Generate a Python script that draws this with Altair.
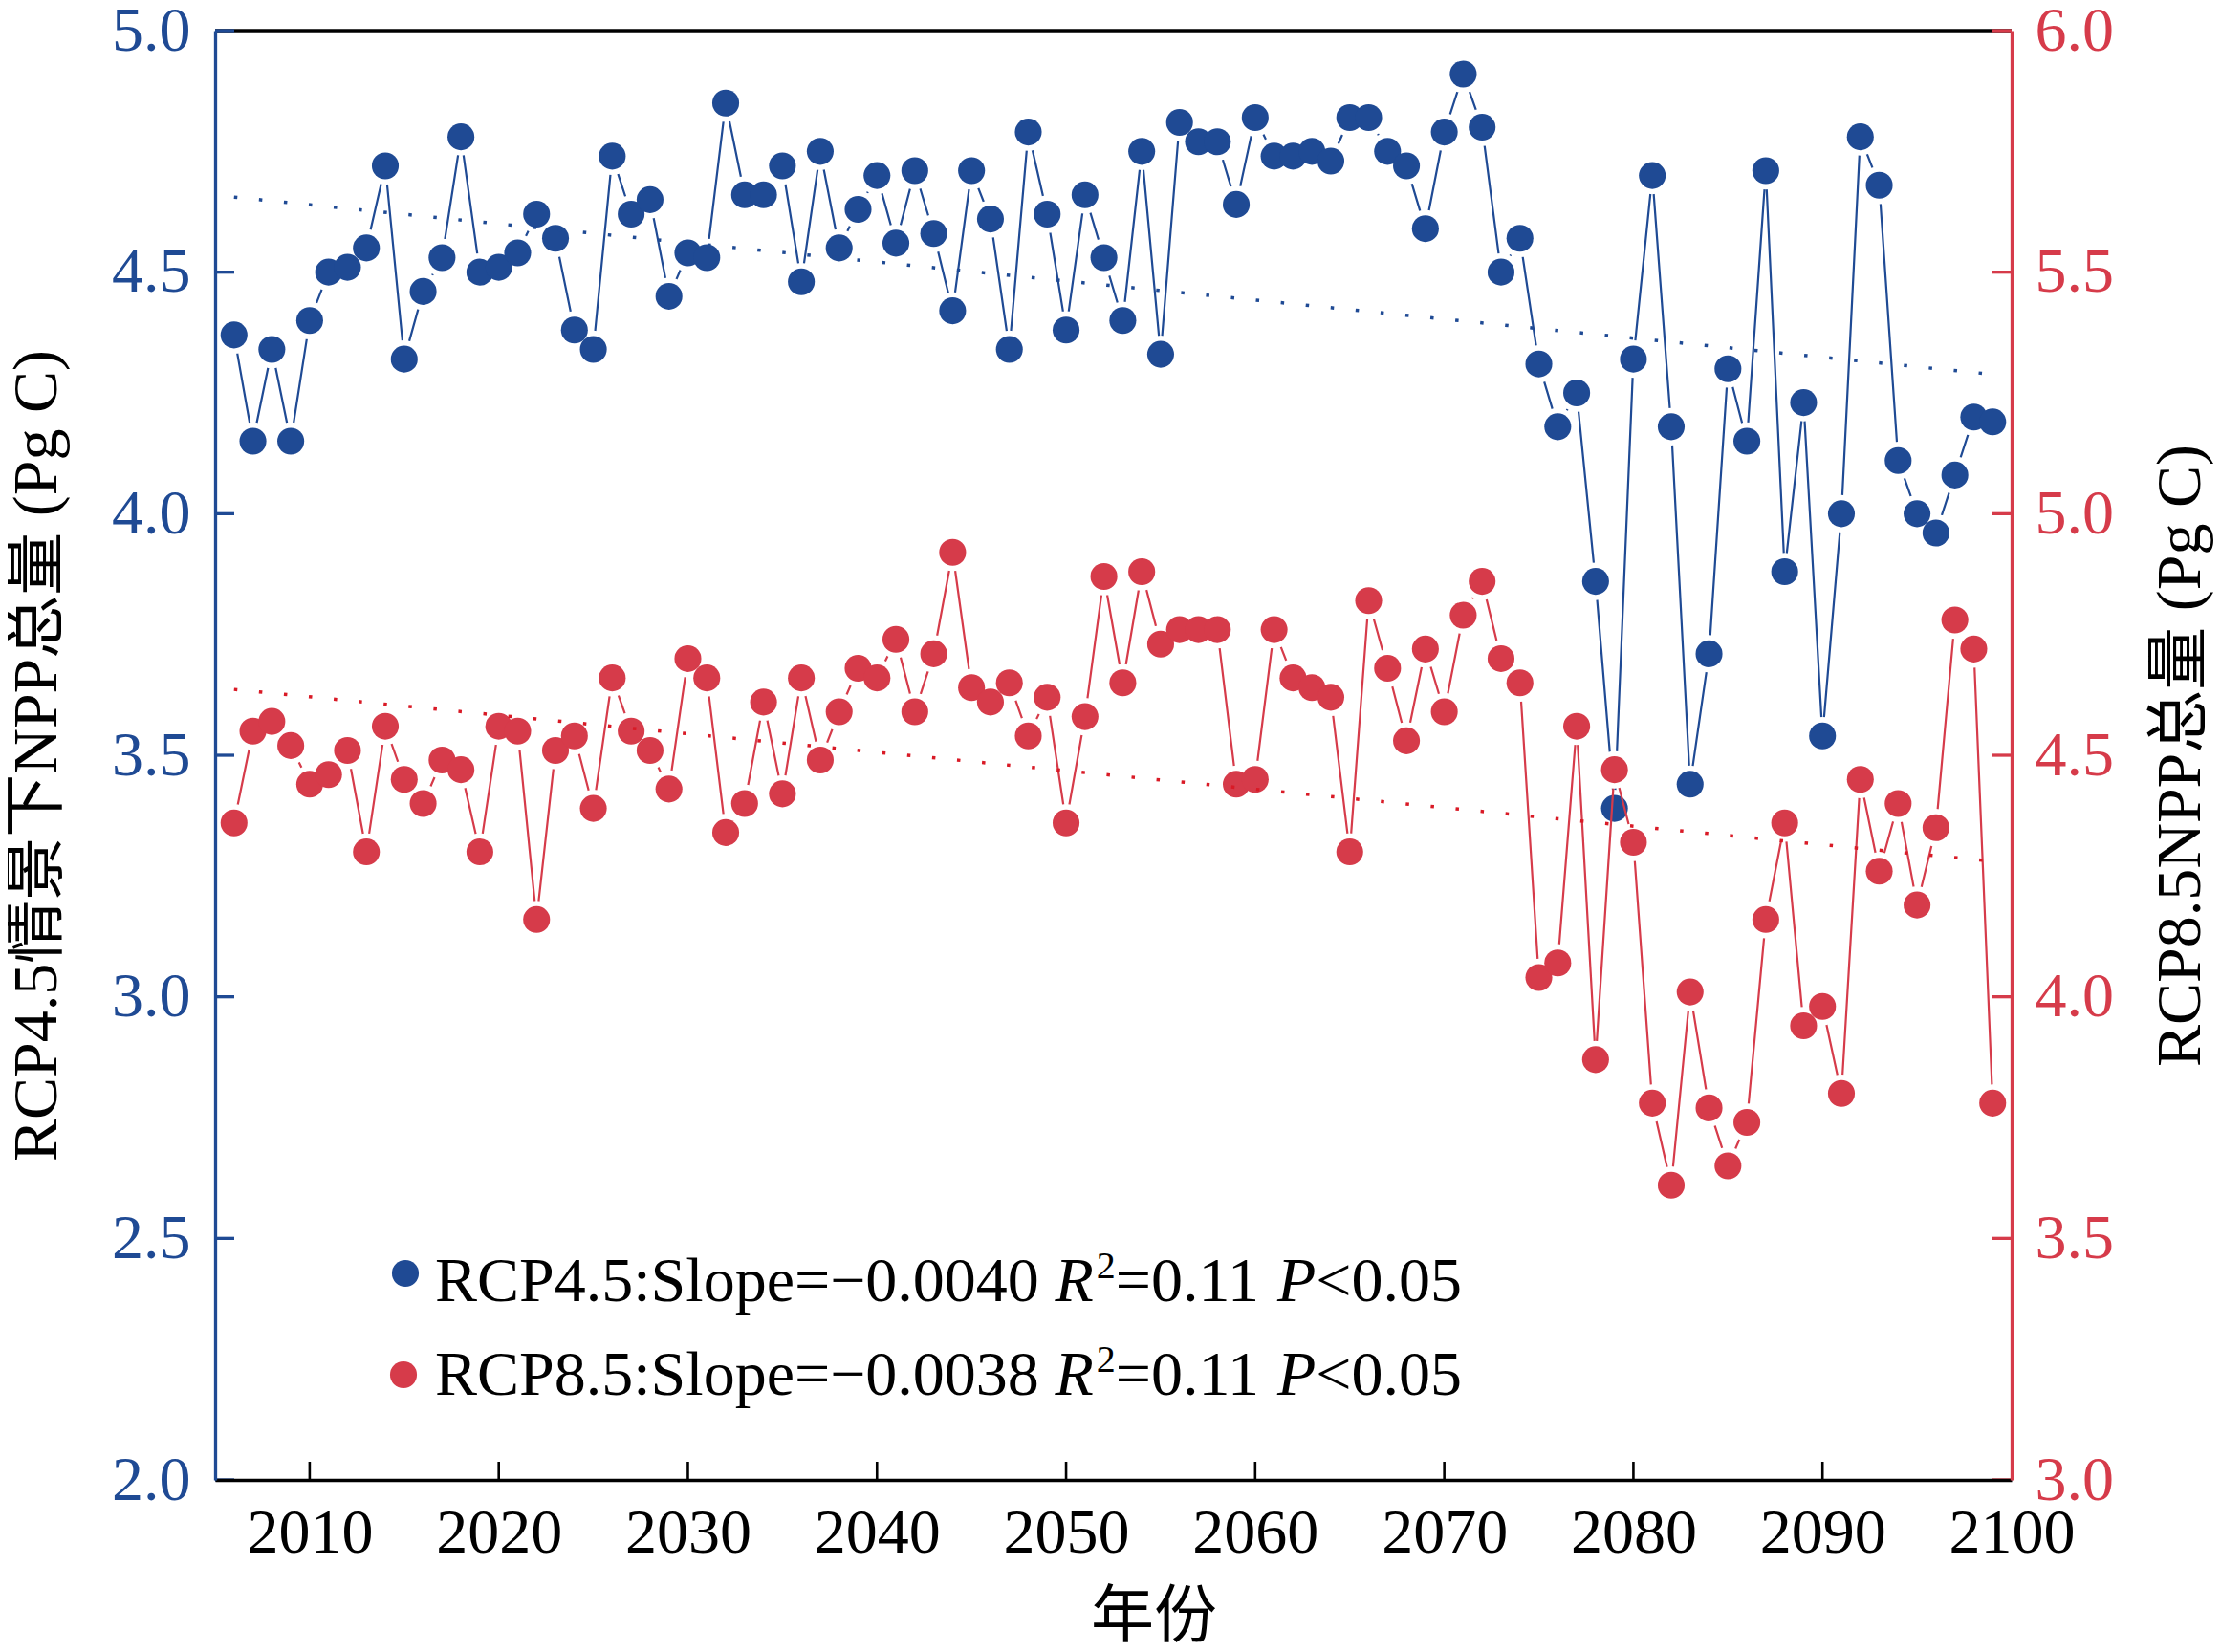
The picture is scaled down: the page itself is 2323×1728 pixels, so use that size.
import altair as alt
import pandas as pd

# ---------------- data ----------------
years = list(range(2006, 2100))

rcp45 = [4.37, 4.15, 4.34, 4.15, 4.40, 4.50, 4.51, 4.55, 4.72, 4.32,
         4.46, 4.53, 4.78, 4.50, 4.51, 4.54, 4.62, 4.57, 4.38, 4.34,
         4.74, 4.62, 4.65, 4.45, 4.54, 4.53, 4.85, 4.66, 4.66, 4.72,
         4.48, 4.75, 4.55, 4.63, 4.70, 4.56, 4.71, 4.58, 4.42, 4.71,
         4.61, 4.34, 4.79, 4.62, 4.38, 4.66, 4.53, 4.40, 4.75, 4.33,
         4.81, 4.77, 4.77, 4.64, 4.82, 4.74, 4.74, 4.75, 4.73, 4.82,
         4.82, 4.75, 4.72, 4.59, 4.79, 4.91, 4.80, 4.50, 4.57, 4.31,
         4.18, 4.25, 3.86, 3.39, 4.32, 4.70, 4.18, 3.44, 3.71, 4.30,
         4.15, 4.71, 3.88, 4.23, 3.54, 4.00, 4.78, 4.68, 4.11, 4.00,
         3.96, 4.08, 4.20, 4.19]

rcp85 = [4.36, 4.55, 4.57, 4.52, 4.44, 4.46, 4.51, 4.30, 4.56, 4.45,
         4.40, 4.49, 4.47, 4.30, 4.56, 4.55, 4.16, 4.51, 4.54, 4.39,
         4.66, 4.55, 4.51, 4.43, 4.70, 4.66, 4.34, 4.40, 4.61, 4.42,
         4.66, 4.49, 4.59, 4.68, 4.66, 4.74, 4.59, 4.71, 4.92, 4.64,
         4.61, 4.65, 4.54, 4.62, 4.36, 4.58, 4.87, 4.65, 4.88, 4.73,
         4.76, 4.76, 4.76, 4.44, 4.45, 4.76, 4.66, 4.64, 4.62, 4.30,
         4.82, 4.68, 4.53, 4.72, 4.59, 4.79, 4.86, 4.70, 4.65, 4.04,
         4.07, 4.56, 3.87, 4.47, 4.32, 3.78, 3.61, 4.01, 3.77, 3.65,
         3.74, 4.16, 4.36, 3.94, 3.98, 3.80, 4.45, 4.26, 4.40, 4.19,
         4.35, 4.78, 4.72, 3.78]

left_ticks = [2.0, 2.5, 3.0, 3.5, 4.0, 4.5, 5.0]
right_ticks = [3.0, 3.5, 4.0, 4.5, 5.0, 5.5, 6.0]
year_ticks = [2010, 2020, 2030, 2040, 2050, 2060, 2070, 2080, 2090, 2100]

series_names = ["RCP4.5", "RCP8.5"]
slopes = ["\u22120.0040", "\u22120.0038"]
r2_text = ["0.11", "0.11"]
p_text = ["0.05", "0.05"]

left_title = "RCP4.5情景下NPP总量 (Pg C)"
right_title = "RCP8.5NPP总量 (Pg C)"
x_title = "年份"

# ---------------- style ----------------
BLUE = "#1f4a94"
RED = "#d63b4a"
RED_TREND = "#d91a26"
W, H = 1879, 1516
SERIF = "Liberation Serif"
CJK = "Liberation Serif, Noto Sans CJK SC"
FS = 66
PT = 790
HALO = 1550
TICK = 20

df45 = pd.DataFrame({"year": years, "value": rcp45})
df85 = pd.DataFrame({"year": years, "value": rcp85})

x_scale = alt.Scale(domain=[2005, 2100], nice=False, zero=False)
x_axis = alt.Axis(values=year_ticks, format="d", ticks=False, grid=False,
                  labelFlush=False, labelOverlap=False, labelPadding=23,
                  labelFont=SERIF, labelFontSize=FS, labelColor="black",
                  domainColor="black", domainWidth=3.4, zindex=1,
                  title=x_title, titleFont=CJK, titleFontSize=FS,
                  titleFontWeight="normal", titleColor="black",
                  titlePadding=23, titleX=W / 2 + 42)

yL_scale = alt.Scale(domain=[2, 5], nice=False, zero=False)
yL_axis = alt.Axis(values=left_ticks, format=".1f", ticks=False, grid=False,
                   orient="left", labelPadding=26, labelFont=SERIF,
                   labelFontSize=FS, labelColor=BLUE, domainColor=BLUE,
                   domainWidth=3.3, zindex=1, title=left_title, titleFont=CJK,
                   titleFontSize=FS, titleFontWeight="normal",
                   titleColor="black", titlePadding=44)

yR_scale = alt.Scale(domain=[3, 6], nice=False, zero=False)
yR_axis = alt.Axis(values=right_ticks, format=".1f", ticks=False, grid=False,
                   orient="right", labelPadding=24, labelFont=SERIF,
                   labelFontSize=FS, labelColor=RED, domainColor=RED,
                   domainWidth=3.3, zindex=1, title=right_title, titleFont=CJK,
                   titleFontSize=FS, titleFontWeight="normal",
                   titleColor="black", titlePadding=38, titleAngle=270,
                   titleBaseline="top")


def X(f):
    return alt.X(f"{f}:Q", scale=x_scale, axis=x_axis)


def YL(f):
    return alt.Y(f"{f}:Q", scale=yL_scale, axis=yL_axis)


def YR(f):
    return alt.Y(f"{f}:Q", scale=yR_scale, axis=yR_axis)


one = pd.DataFrame({"a": [0]})

# frame / inward ticks
top_frame = alt.Chart(one).mark_rule(color="black", strokeWidth=3.4).encode(
    x=alt.value(0), x2=alt.value(W), y=alt.value(0))
bottom_ticks = alt.Chart(pd.DataFrame({"yt": year_ticks[:-1]})).mark_rule(
    color="black", strokeWidth=2.6).encode(
    x=X("yt"), y=alt.value(H), y2=alt.value(H - 19))
left_tick_rules = alt.Chart(pd.DataFrame({"tick": left_ticks})).mark_rule(
    color=BLUE, strokeWidth=3.3).encode(
    y=YL("tick"), x=alt.value(0), x2=alt.value(TICK))
right_tick_rules = alt.Chart(pd.DataFrame({"tick": right_ticks})).mark_rule(
    color=RED, strokeWidth=3.3).encode(
    y=YR("tick"), x=alt.value(W - TICK), x2=alt.value(W))


def series_layers(df, color, trend_color, Y):
    line = alt.Chart(df).mark_line(color=color, strokeWidth=2.2).encode(
        x=X("year"), y=Y("value"))
    halo = alt.Chart(df).mark_circle(color="white", opacity=1, size=HALO).encode(
        x=X("year"), y=Y("value"))
    pts = alt.Chart(df).mark_circle(color=color, opacity=1, size=PT).encode(
        x=X("year"), y=Y("value"))
    trend = alt.Chart(df).transform_regression("year", "value").mark_line(
        color=trend_color, strokeWidth=3.5, strokeDash=[3.5, 22.7],
        strokeCap="butt").encode(x=X("year"), y=Y("value"))
    return [line, halo, pts, trend]


# ---------------- legend (annotation) ----------------
TNR = {'R': 667, 'C': 667, 'P': 556, '4': 500, '.': 250, '5': 500, ':': 278,
       'S': 556, 'l': 278, 'o': 500, 'p': 500, 'e': 444, '=': 564,
       '\u2212': 564, '0': 500, '1': 500, '2': 500, '3': 500, '8': 500,
       ' ': 250, '<': 564}
TNR_IT = {'R': 611, 'P': 611}


def tw(s, fs, italic=False):
    tab = TNR_IT if italic else {}
    return sum(tab.get(c, TNR.get(c, 500)) for c in s) * fs / 1000.0


legend_layers = []
legend_colors = [BLUE, RED]
dot_pos = [(199, 1300), (197, 1406)]
baselines = [1329, 1427]
for i in range(2):
    dx, dy = dot_pos[i]
    legend_layers.append(alt.Chart(one).mark_circle(
        color=legend_colors[i], opacity=1, size=PT).encode(
        x=alt.value(dx), y=alt.value(dy)))
    pieces = [
        (f"{series_names[i]}:Slope={slopes[i]} ", "normal", FS, 0, 0),
        ("R", "italic", FS, 0, 3),
        ("2", "normal", 40, -24, 0),
        (f"={r2_text[i]} ", "normal", FS, 0, 0),
        ("P", "italic", FS, 0, 0),
        (f"<{p_text[i]}", "normal", FS, 0, 0),
    ]
    xpos = 230.0
    for txt, style, fs, rise, extra in pieces:
        legend_layers.append(alt.Chart(pd.DataFrame({"t": [txt]})).mark_text(
            align="left", baseline="alphabetic", font=SERIF, fontSize=fs,
            fontStyle=style, color="black").encode(
            text="t:N", x=alt.value(xpos), y=alt.value(baselines[i] + rise)))
        xpos += tw(txt, fs, style == "italic") + extra

blue_group = alt.layer(top_frame, bottom_ticks,
                       *series_layers(df45, BLUE, BLUE, YL),
                       left_tick_rules)
red_group = alt.layer(*series_layers(df85, RED, RED_TREND, YR),
                      right_tick_rules, *legend_layers)

chart = alt.layer(blue_group, red_group).resolve_scale(
    y="independent").properties(
    width=W, height=H,
    padding={"left": 217, "top": 24, "right": 211, "bottom": 172},
    autosize=alt.AutoSizeParams(type="none"),
    background="white",
).configure_view(strokeWidth=0)

chart.save("out.html", embed_options={"renderer": "svg", "actions": False})
